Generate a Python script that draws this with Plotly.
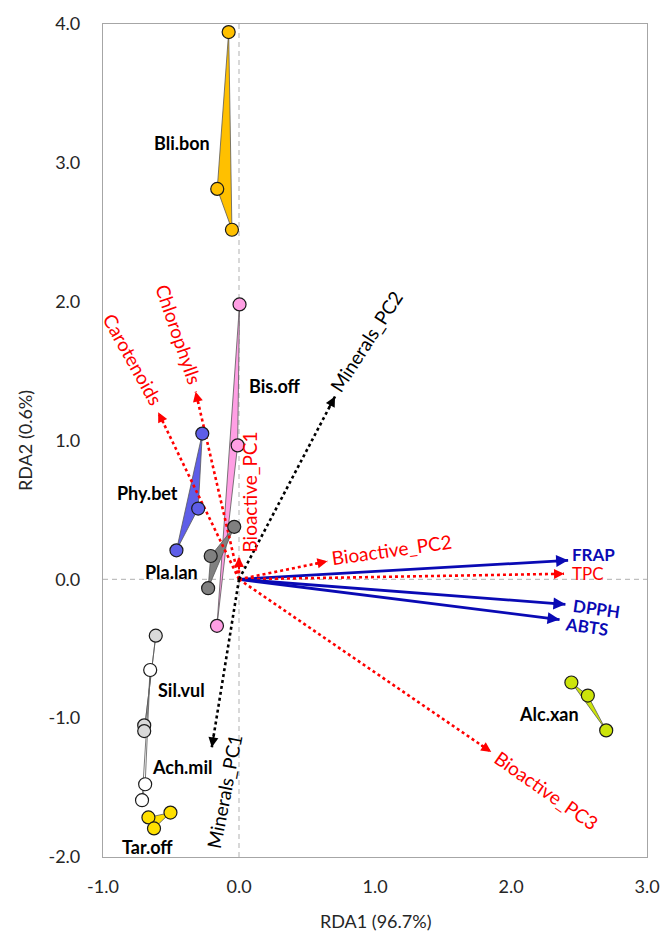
import math
import plotly.graph_objects as go

# ---------------- data ----------------
bli_x = [-0.076, -0.160, -0.052]
bli_y = [3.942, 2.812, 2.518]
bis_x = [0.004, -0.010, -0.162]
bis_y = [1.980, 0.965, -0.335]
phy_x = [-0.270, -0.300, -0.460]
phy_y = [1.050, 0.510, 0.209]
pla_x = [-0.035, -0.208, -0.227]
pla_y = [0.378, 0.168, -0.064]
sil_x = [-0.612, -0.697, -0.697]
sil_y = [-0.406, -1.052, -1.093]
ach_x = [-0.653, -0.690, -0.713]
ach_y = [-0.653, -1.476, -1.591]
tar_x = [-0.666, -0.504, -0.625]
tar_y = [-1.715, -1.680, -1.794]
alc_x = [2.444, 2.565, 2.700]
alc_y = [-0.743, -0.837, -1.088]

group_names = ["Bli.bon", "Bis.off", "Phy.bet", "Pla.lan", "Sil.vul", "Ach.mil", "Tar.off", "Alc.xan"]
group_x = [bli_x, bis_x, phy_x, pla_x, sil_x, ach_x, tar_x, alc_x]
group_y = [bli_y, bis_y, phy_y, pla_y, sil_y, ach_y, tar_y, alc_y]
group_label_x = [-0.422, 0.264, -0.675, -0.495, -0.422, -0.422, -0.675, 2.276]
group_label_y = [3.140, 1.396, 0.620, 0.053, -0.794, -1.350, -1.930, -0.973]

vec_names = ["FRAP", "TPC", "DPPH", "ABTS", "Bioactive_PC1", "Bioactive_PC2",
             "Bioactive_PC3", "Carotenoids", "Chlorophylls", "Minerals_PC1", "Minerals_PC2"]
vec_x = [2.420, 2.390, 2.400, 2.357, 0.000, 0.650, 1.855, -0.594, -0.319, -0.200, 0.706]
vec_y = [0.137, 0.040, -0.180, -0.290, 0.160, 0.130, -1.244, 1.204, 1.352, -1.210, 1.317]
vec_kind = ["antiox", "bio", "antiox", "antiox", "bio", "bio", "bio", "bio", "bio", "min", "min"]
vec_label_x = [2.610, 2.567, 2.625, 2.552, 0.076, 1.120, 2.264, -0.776, -0.440, -0.108, 0.935]
vec_label_y = [0.180, 0.040, -0.212, -0.340, 0.628, 0.218, -1.520, 1.586, 1.765, -1.530, 1.710]
vec_label_angle = [0, 0, 8, 8, -90, -8, 35, 61, 71, -79, -57]

x_range = [-1.0, 3.0]
y_range = [-2.0, 4.0]
x_ticks = [-1.0, 0.0, 1.0, 2.0, 3.0]
x_tick_labels = ["-1.0", "0.0", "1.0", "2.0", "3.0"]
y_ticks = [-2.0, -1.0, 0.0, 1.0, 2.0, 3.0, 4.0]
y_tick_labels = ["-2.0", "-1.0", "0.0", "1.0", "2.0", "3.0", "4.0"]

# ---------------- styles ----------------
FONT = "Lato"
group_fill = ["#FFC000", "#FF9FE4", "#5E5EE8", "#808080", "#D9D9D9", "#FFFFFF", "#FFE000", "#CCE40A"]
kind_color = {"antiox": "#0A0AB4", "bio": "#FF0000", "min": "#000000"}
kind_dash = {"antiox": "solid", "bio": "3px,3px", "min": "3px,3px"}
kind_width = {"antiox": 2.8, "bio": 2.6, "min": 2.6}

fig = go.Figure()

# polygons
for name, gx, gy, col in zip(group_names, group_x, group_y, group_fill):
    fig.add_trace(go.Scatter(
        x=gx + [gx[0]], y=gy + [gy[0]], mode="lines", fill="toself",
        fillcolor=col, line=dict(color="#595959", width=0.8),
        hoverinfo="skip", showlegend=False))

# vectors (lines)
for name, vx, vy, kind in zip(vec_names, vec_x, vec_y, vec_kind):
    fig.add_trace(go.Scatter(
        x=[0, vx], y=[0, vy], mode="lines",
        line=dict(color=kind_color[kind], width=kind_width[kind], dash=kind_dash[kind]),
        hoverinfo="skip", showlegend=False))

# markers
for name, gx, gy, col in zip(group_names, group_x, group_y, group_fill):
    fig.add_trace(go.Scatter(
        x=gx, y=gy, mode="markers",
        marker=dict(size=13, color=col, line=dict(color="#1a1a1a", width=1.2)),
        name=name, showlegend=False))

annotations = []
# arrow heads
for name, vx, vy, kind in zip(vec_names, vec_x, vec_y, vec_kind):
    L = math.hypot(vx, vy)
    ux, uy = vx / L, vy / L
    tail = 14
    annotations.append(dict(
        x=vx, y=vy, xref="x", yref="y", ax=-tail * ux, ay=tail * uy,
        text="", showarrow=True, arrowhead=2, arrowsize=1,
        arrowwidth=2.4 if kind == "antiox" else 2.0,
        arrowcolor=kind_color[kind], standoff=0))

# vector labels
for name, lx, ly, ang, kind in zip(vec_names, vec_label_x, vec_label_y, vec_label_angle, vec_kind):
    bold = kind == "antiox"
    short = name in ("FRAP", "TPC", "DPPH", "ABTS")
    annotations.append(dict(
        x=lx, y=ly, xref="x", yref="y", text=f"<b>{name}</b>" if bold else name,
        showarrow=False, textangle=ang,
        font=dict(family=FONT, size=17 if short else 19, color=kind_color[kind])))

# group labels
for name, lx, ly in zip(group_names, group_label_x, group_label_y):
    annotations.append(dict(
        x=lx, y=ly, xref="x", yref="y", text=f"<b>{name}</b>", showarrow=False,
        font=dict(family=FONT, size=18, color="#000000")))

# axis titles
annotations.append(dict(x=0.5, y=-0.0766, xref="paper", yref="paper", text="RDA1 (96.7%)",
                        showarrow=False, yanchor="middle",
                        font=dict(family=FONT, size=18, color="#262626")))
annotations.append(dict(x=-0.1444, y=0.5, xref="paper", yref="paper", text="RDA2 (0.6%)",
                        showarrow=False, textangle=-90, xanchor="center",
                        font=dict(family=FONT, size=18, color="#262626")))

shapes = [
    dict(type="line", xref="x", yref="y", x0=0, x1=0, y0=y_range[0], y1=y_range[1],
         line=dict(color="#BFBFBF", width=1.2, dash="5px,4px"), layer="below"),
    dict(type="line", xref="x", yref="y", x0=x_range[0], x1=x_range[1], y0=0, y1=0,
         line=dict(color="#BFBFBF", width=1.2, dash="5px,4px"), layer="below"),
]

fig.update_layout(
    width=672, height=932,
    margin=dict(l=103, r=15, t=21, b=75),
    paper_bgcolor="white", plot_bgcolor="white",
    showlegend=False,
    annotations=annotations, shapes=shapes,
    font=dict(family=FONT, size=18, color="#262626"),
)
fig.update_xaxes(range=x_range, tickvals=x_ticks, ticktext=x_tick_labels,
                 showgrid=False, zeroline=False, showline=True, mirror=True,
                 linecolor="#A6A6A6", linewidth=1.2, ticks="", ticklabelstandoff=13,
                 tickfont=dict(family=FONT, size=18, color="#262626"))
fig.update_yaxes(range=y_range, tickvals=y_ticks, ticktext=y_tick_labels,
                 showgrid=False, zeroline=False, showline=True, mirror=True,
                 linecolor="#A6A6A6", linewidth=1.2, ticks="", ticklabelstandoff=18,
                 tickfont=dict(family=FONT, size=18, color="#262626"))

fig.write_html("out.html")
